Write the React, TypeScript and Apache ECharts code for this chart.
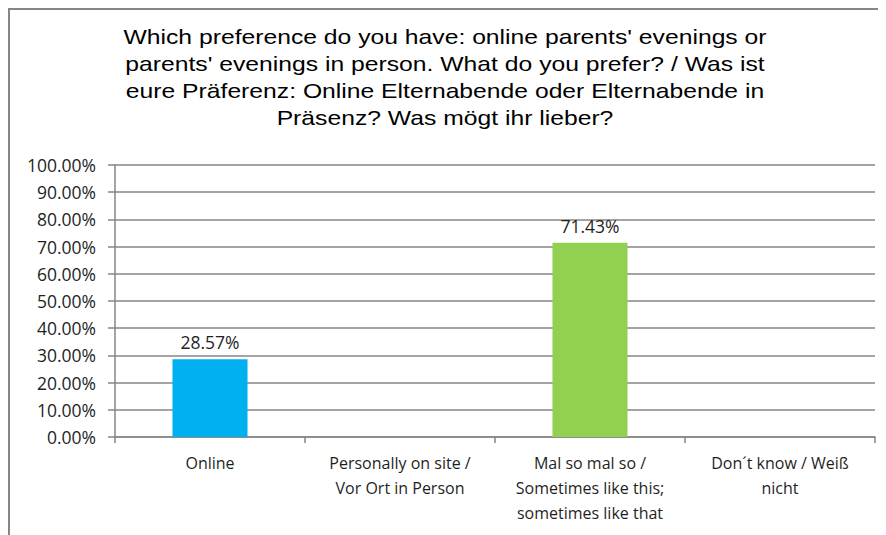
import React, { useEffect, useRef } from "react";
import * as echarts from "echarts";

const titleLines = [
  "Which preference do you have: online parents' evenings or",
  "parents' evenings in person. What do you prefer? / Was ist",
  "eure Präferenz: Online Elternabende oder Elternabende in",
  "Präsenz? Was mögt ihr lieber?",
];
const categories = [
  "Online",
  "Personally on site /\nVor Ort in Person",
  "Mal so mal so /\nSometimes like this;\nsometimes like that",
  "Don´t know / Weiß\nnicht",
];
const values = [28.57, 0, 71.43, 0];
const barColors = ["#00B0F0", "#00B0F0", "#92D050", "#92D050"];
const yTicks = { min: 0, max: 100, interval: 10 };

export default function App() {
  const ref = useRef<HTMLDivElement>(null);
  useEffect(() => {
    if (!ref.current) return;
    const chart = echarts.init(ref.current, undefined, { renderer: "svg" });
    const font = "'Open Sans', Lato, sans-serif";
    chart.setOption({
      animation: false,
      backgroundColor: "#ffffff",
      graphic: [
        {
          type: "rect",
          shape: { x: 1, y: 1, width: 3000, height: 3000 },
          style: { fill: "none", stroke: "#868686", lineWidth: 2 },
          silent: true,
        },
        {
          type: "text",
          x: 437,
          y: 16,
          scaleX: 1.235,
          silent: true,
          style: {
            text: titleLines.join("\n"),
            fontFamily: "'Liberation Sans', Arial, sans-serif",
            fontSize: 20,
            lineHeight: 27,
            fill: "#000000",
            textAlign: "center",
            textVerticalAlign: "top",
          },
        },
      ],
      grid: { left: 107, right: 11, top: 157, bottom: 98, containLabel: false },
      xAxis: {
        type: "category",
        data: categories,
        axisLine: { lineStyle: { color: "#868686", width: 1.5 } },
        axisTick: { show: true, length: 6, lineStyle: { color: "#868686", width: 1.5 } },
        axisLabel: {
          interval: 0,
          margin: 13,
          fontFamily: font,
          fontSize: 16,
          lineHeight: 25,
          color: "#1f1f1f",
          verticalAlign: "top",
        },
      },
      yAxis: {
        type: "value",
        min: yTicks.min,
        max: yTicks.max,
        interval: yTicks.interval,
        axisLine: { show: true, lineStyle: { color: "#868686", width: 1.5 } },
        axisTick: { show: true, length: 7, lineStyle: { color: "#868686", width: 1.5 } },
        splitLine: { lineStyle: { color: "#868686", width: 1.5 } },
        axisLabel: {
          margin: 19,
          fontFamily: font,
          fontSize: 17.5,
          color: "#1f1f1f",
          formatter: (v: number) => v.toFixed(2) + "%",
        },
      },
      series: [
        {
          type: "bar",
          barWidth: "39.5%",
          data: values.map((v, i) => ({ value: v, itemStyle: { color: barColors[i] } })),
          label: {
            show: true,
            position: "top",
            distance: 8,
            fontFamily: font,
            fontSize: 17.5,
            color: "#1f1f1f",
            formatter: (p: any) => (p.value ? p.value.toFixed(2) + "%" : ""),
          },
        },
      ],
    });
    return () => chart.dispose();
  }, []);
  return <div ref={ref} style={{ width: 878, height: 527 }} />;
}
